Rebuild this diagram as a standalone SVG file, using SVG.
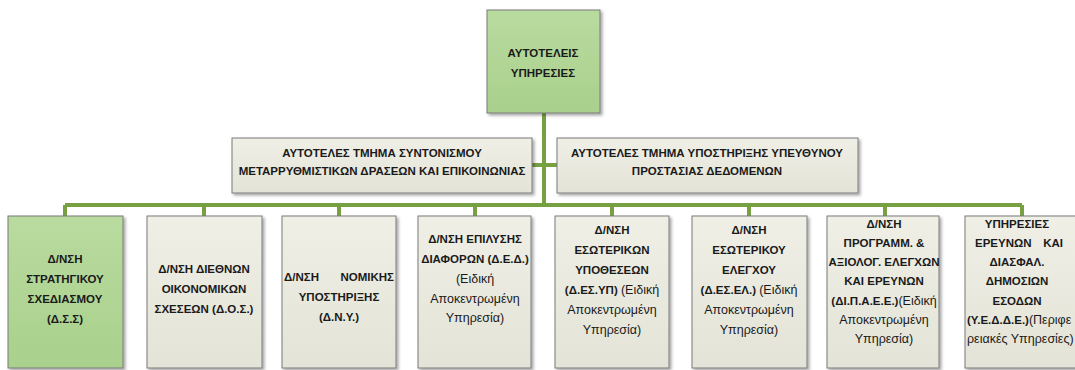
<svg xmlns="http://www.w3.org/2000/svg" width="1075" height="370" viewBox="0 0 1075 370">
<defs>
<filter id="sh" x="-10%" y="-10%" width="130%" height="130%">
<feDropShadow dx="2" dy="2" stdDeviation="1.5" flood-color="#000" flood-opacity="0.35"/>
</filter>
<linearGradient id="gg" x1="0" y1="0" x2="0" y2="1"><stop offset="0" stop-color="#b9db9f"/><stop offset="1" stop-color="#a9d08c"/></linearGradient>
<linearGradient id="bg" x1="0" y1="0" x2="0" y2="1"><stop offset="0" stop-color="#efefe6"/><stop offset="1" stop-color="#e3e3d7"/></linearGradient>
</defs>
<style>
.g{fill:url(#gg);stroke:#7a7a7a;stroke-width:1;filter:url(#sh)}
.b{fill:url(#bg);stroke:#7a7a7a;stroke-width:1;filter:url(#sh)}
text{font-family:"Liberation Sans",Arial,sans-serif;font-size:11.5px;font-weight:bold;fill:#1a1a1a;text-anchor:middle}
.r{font-weight:normal;font-size:12.5px}
.s{text-anchor:start}
.e{text-anchor:end}
.c{fill:none;stroke:#77a043;stroke-width:4}
</style>
<rect width="1075" height="370" fill="#fff"/>
<g id="connectors">
<path class="c" d="M544 113V205M532 165H557M65 205H1022"/>
<path class="c" d="M65 205V216M204 205V216M339 205V216M475 205V216M612 205V216M749 205V216M885 205V216M1022 205V216"/>
</g>
<g id="n0"><rect class="g" x="487" y="10" width="113" height="103"/>
<text x="543" y="57">ΑΥΤΟΤΕΛΕΙΣ</text><text x="543" y="77">ΥΠΗΡΕΣΙΕΣ</text></g>
<g id="m1"><rect class="b" x="232" y="138" width="300" height="55"/>
<text x="382" y="157">ΑΥΤΟΤΕΛΕΣ ΤΜΗΜΑ ΣΥΝΤΟΝΙΣΜΟΥ</text><text x="382" y="175">ΜΕΤΑΡΡΥΘΜΙΣΤΙΚΩΝ ΔΡΑΣΕΩΝ ΚΑΙ ΕΠΙΚΟΙΝΩΝΙΑΣ</text></g>
<g id="m2"><rect class="b" x="557" y="138" width="301" height="55"/>
<text x="707" y="157">ΑΥΤΟΤΕΛΕΣ ΤΜΗΜΑ ΥΠΟΣΤΗΡΙΞΗΣ ΥΠΕΥΘΥΝΟΥ</text><text x="707" y="175">ΠΡΟΣΤΑΣΙΑΣ ΔΕΔΟΜΕΝΩΝ</text></g>
<g id="b1"><rect class="g" x="8" y="216" width="115" height="152"/>
<text x="65" y="263">Δ/ΝΣΗ</text><text x="65" y="283">ΣΤΡΑΤΗΓΙΚΟΥ</text><text x="65" y="303">ΣΧΕΔΙΑΣΜΟΥ</text><text x="65" y="323">(Δ.Σ.Σ)</text></g>
<g id="b2"><rect class="b" x="147" y="216" width="115" height="152"/>
<text x="204" y="273">Δ/ΝΣΗ ΔΙΕΘΝΩΝ</text><text x="204" y="293">ΟΙΚΟΝΟΜΙΚΩΝ</text><text x="204" y="313">ΣΧΕΣΕΩΝ (Δ.Ο.Σ.)</text></g>
<g id="b3"><rect class="b" x="282" y="216" width="114" height="152"/>
<text class="s" x="284" y="281">Δ/ΝΣΗ</text><text class="e" x="394" y="281">ΝΟΜΙΚΗΣ</text><text x="339" y="301">ΥΠΟΣΤΗΡΙΞΗΣ</text><text x="339" y="321">(Δ.Ν.Υ.)</text></g>
<g id="b4"><rect class="b" x="418" y="216" width="113" height="152"/>
<text x="475" y="243">Δ/ΝΣΗ ΕΠΙΛΥΣΗΣ</text><text x="475" y="263">ΔΙΑΦΟΡΩΝ (Δ.Ε.Δ.)</text><text class="r" x="475" y="283">(Ειδική</text><text class="r" x="475" y="303">Αποκεντρωμένη</text><text class="r" x="475" y="322">Υπηρεσία)</text></g>
<g id="b5"><rect class="b" x="555" y="216" width="114" height="152"/>
<text x="612" y="234">Δ/ΝΣΗ</text><text x="612" y="254">ΕΣΩΤΕΡΙΚΩΝ</text><text x="612" y="274">ΥΠΟΘΕΣΕΩΝ</text><text x="612" y="294">(Δ.ΕΣ.ΥΠ) <tspan class="r">(Ειδική</tspan></text><text class="r" x="612" y="314">Αποκεντρωμένη</text><text class="r" x="612" y="334">Υπηρεσία)</text></g>
<g id="b6"><rect class="b" x="692" y="216" width="115" height="152"/>
<text x="749" y="234">Δ/ΝΣΗ</text><text x="749" y="254">ΕΣΩΤΕΡΙΚΟΥ</text><text x="749" y="274">ΕΛΕΓΧΟΥ</text><text x="749" y="294">(Δ.ΕΣ.ΕΛ.) <tspan class="r">(Ειδική</tspan></text><text class="r" x="749" y="314">Αποκεντρωμένη</text><text class="r" x="749" y="334">Υπηρεσία)</text></g>
<g id="b7"><rect class="b" x="827" y="216" width="112" height="152"/>
<text x="884" y="228">Δ/ΝΣΗ</text><text x="884" y="247">ΠΡΟΓΡΑΜΜ. &amp;</text><text x="884" y="266">ΑΞΙΟΛΟΓ. ΕΛΕΓΧΩΝ</text><text x="884" y="285">ΚΑΙ ΕΡΕΥΝΩΝ</text><text x="884" y="305">(ΔΙ.Π.Α.Ε.Ε.)<tspan class="r">(Ειδική</tspan></text><text class="r" x="884" y="324">Αποκεντρωμένη</text><text class="r" x="884" y="343">Υπηρεσία)</text></g>
<g id="b8"><rect class="b" x="965" y="216" width="116" height="152"/>
<text x="1017" y="228">ΥΠΗΡΕΣΙΕΣ</text><text class="s" x="975" y="247">ΕΡΕΥΝΩΝ</text><text class="e" x="1063" y="247">ΚΑΙ</text><text x="1017" y="266">ΔΙΑΣΦΑΛ.</text><text x="1017" y="285">ΔΗΜΟΣΙΩΝ</text><text x="1017" y="305">ΕΣΟΔΩΝ</text><text class="s" x="967" y="324">(Υ.Ε.Δ.Δ.Ε.)<tspan class="r">(Περιφε</tspan></text><text class="s r" x="967" y="343">ρειακές Υπηρεσίες)</text></g>
</svg>
